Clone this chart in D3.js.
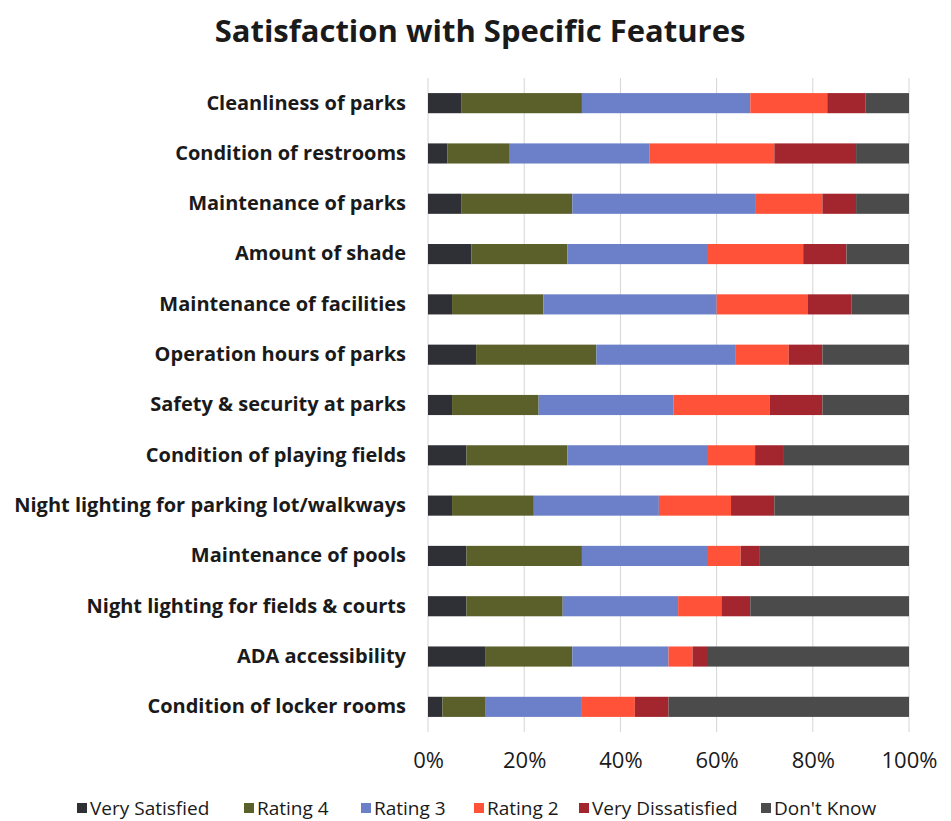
<!DOCTYPE html>
<html>
<head>
<meta charset="utf-8">
<script src="https://cdn.jsdelivr.net/npm/d3@7"></script>
<style>
  body { margin: 0; background: #fff; }
  svg { display: block; }
  text { font-family: "Open Sans", Lato, sans-serif; fill: #1a1a1a; }
</style>
</head>
<body>
<svg id="chart" width="951" height="821"></svg>
<script>
const categories = [
  "Cleanliness of parks",
  "Condition of restrooms",
  "Maintenance of parks",
  "Amount of shade",
  "Maintenance of facilities",
  "Operation hours of parks",
  "Safety & security at parks",
  "Condition of playing fields",
  "Night lighting for parking lot/walkways",
  "Maintenance of pools",
  "Night lighting for fields & courts",
  "ADA accessibility",
  "Condition of locker rooms"
];
const seriesNames = ["Very Satisfied", "Rating 4", "Rating 3", "Rating 2", "Very Dissatisfied", "Don't Know"];
const verySatisfied    = [7, 4, 7, 9, 5, 10, 5, 8, 5, 8, 8, 12, 3];
const rating4          = [25, 13, 23, 20, 19, 25, 18, 21, 17, 24, 20, 18, 9];
const rating3          = [35, 29, 38, 29, 36, 29, 28, 29, 26, 26, 24, 20, 20];
const rating2          = [16, 26, 14, 20, 19, 11, 20, 10, 15, 7, 9, 5, 11];
const veryDissatisfied = [8, 17, 7, 9, 9, 7, 11, 6, 9, 4, 6, 3, 7];
const dontKnow         = [9, 11, 11, 13, 12, 18, 18, 26, 28, 31, 33, 42, 50];
const tickValues = [0, 0.2, 0.4, 0.6, 0.8, 1.0];
const colors = ["#2f3036", "#5b5f2a", "#6b80c8", "#ff5238", "#a3252e", "#4b4b4b"];

const seriesValues = [verySatisfied, rating4, rating3, rating2, veryDissatisfied, dontKnow];
const rows = categories.map((c, i) => {
  const o = { category: c };
  seriesNames.forEach((s, j) => { o[s] = seriesValues[j][i]; });
  return o;
});
rows.forEach(r => {
  const t = d3.sum(seriesNames, s => r[s]);
  seriesNames.forEach(s => { r[s] = r[s] / t; });
});
const stacked = d3.stack().keys(seriesNames)(rows);

const svg = d3.select("#chart");
const x = d3.scaleLinear().domain([0, 1]).range([428, 909]);
const y = d3.scaleBand().domain(categories).range([78, 732]).paddingInner(0.6).paddingOuter(0.3);
const color = d3.scaleOrdinal().domain(seriesNames).range(colors);

// title
svg.append("text")
  .attr("x", 480).attr("y", 42)
  .attr("text-anchor", "middle")
  .style("font-size", "31px").style("font-weight", "bold")
  .text("Satisfaction with Specific Features");

// gridlines
svg.append("g")
  .selectAll("line").data(tickValues).join("line")
  .attr("x1", d => x(d)).attr("x2", d => x(d))
  .attr("y1", 78).attr("y2", 732)
  .attr("stroke", "#d4d4d4").attr("stroke-width", 1);

// bars
svg.append("g")
  .selectAll("g").data(stacked).join("g")
  .attr("fill", d => color(d.key))
  .selectAll("rect").data(d => d).join("rect")
  .attr("x", d => x(d[0]))
  .attr("width", d => x(d[1]) - x(d[0]))
  .attr("y", d => y(d.data.category))
  .attr("height", y.bandwidth());

// category labels
const yAxis = svg.append("g")
  .attr("transform", "translate(414,0)")
  .call(d3.axisLeft(y).tickSize(0).tickPadding(8));
yAxis.select(".domain").remove();
yAxis.selectAll("text")
  .style("font-size", "20px").style("font-weight", "bold")
  .style("font-family", "'Open Sans', Lato, sans-serif").attr("fill", "#1a1a1a");

// x axis
const xAxis = svg.append("g")
  .attr("transform", "translate(0,732)")
  .call(d3.axisBottom(x).tickValues(tickValues).tickFormat(d3.format(".0%")).tickSize(0).tickPadding(20));
xAxis.select(".domain").remove();
xAxis.selectAll("text")
  .style("font-size", "22px")
  .style("font-family", "'Open Sans', Lato, sans-serif").attr("fill", "#1a1a1a");

// legend
const legendX = [77, 244, 361, 474, 579, 761];
const lg = svg.append("g").selectAll("g").data(seriesNames).join("g")
  .attr("transform", (d, i) => `translate(${legendX[i]},808)`);
lg.append("rect").attr("x", 0).attr("y", -5).attr("width", 10).attr("height", 10)
  .attr("fill", d => color(d));
lg.append("text").attr("x", 13).attr("y", 6.5)
  .style("font-size", "19px").text(d => d);
</script>
</body>
</html>
